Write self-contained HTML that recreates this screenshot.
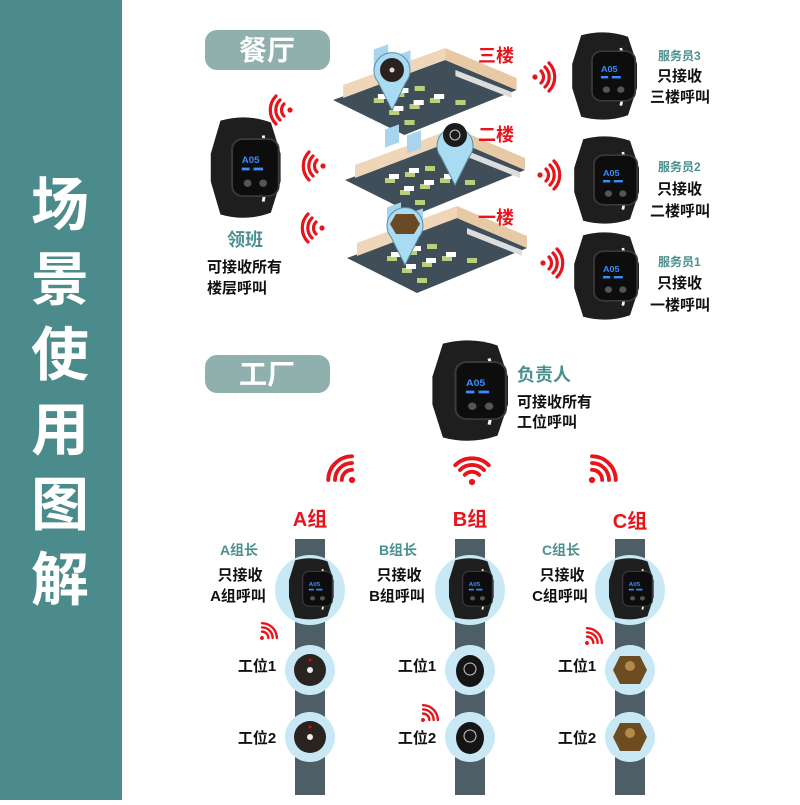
<!DOCTYPE html>
<html><head><meta charset="utf-8"><style>
body{margin:0;width:800px;height:800px;background:#fff;overflow:hidden;font-family:"Liberation Sans","Noto Sans CJK SC",sans-serif}
</style></head><body>
<svg width="800" height="800" viewBox="0 0 800 800" xmlns="http://www.w3.org/2000/svg" font-family="Liberation Sans, Noto Sans CJK SC, sans-serif">
<defs>
<g id="w">
 <path d="M18 4 Q45 -4 70 6 L80 40 L80 70 L70 104 Q45 114 18 106 L8 70 L8 40 Z" fill="#1e1e1e"/>
 <path d="M62 20 Q70 55 62 92" stroke="#f4f4f4" stroke-width="3" fill="none"/>
 <rect x="30" y="24" width="48" height="62" rx="11" fill="#0d0d0d" stroke="#3a3a3a" stroke-width="2"/>
 <text x="40" y="50" font-size="10" font-weight="bold" fill="#3b8cff">A05</text>
 <rect x="40" y="55" width="8" height="3" fill="#3b8cff"/><rect x="52" y="55" width="10" height="3" fill="#3b8cff"/>
 <circle cx="46" cy="72" r="4" fill="#555"/><circle cx="62" cy="72" r="4" fill="#555"/>
</g>
<g id="wifi" fill="none" stroke="#e8141b" stroke-width="3.2" stroke-linecap="round">
 <circle cx="0" cy="0" r="2.6" fill="#e8141b" stroke="none"/>
 <path d="M6 -6 A8.5 8.5 0 0 1 6 6"/>
 <path d="M10 -10 A14 14 0 0 1 10 10"/>
 <path d="M14 -14 A20 20 0 0 1 14 14"/>
</g>
<g id="floor">
 <polygon points="0,40 110,0 180,30 70,75" fill="#3f4e58"/>
 <polygon points="10,25 110,-12 110,0 10,38" fill="#f0d6b8"/>
 <polygon points="110,-12 180,18 180,30 110,0" fill="#e8c9a6"/>
 <rect x="40" y="4" width="14" height="18" fill="#a9d4ee" transform="skewY(-20)"/>
 <rect x="62" y="18" width="14" height="18" fill="#a9d4ee" transform="skewY(-20)"/>
 <g fill="#b9cf7a"><rect x="40" y="38" width="10" height="5"/><rect x="60" y="32" width="10" height="5"/><rect x="80" y="26" width="10" height="5"/><rect x="55" y="50" width="10" height="5"/><rect x="75" y="44" width="10" height="5"/><rect x="95" y="38" width="10" height="5"/><rect x="70" y="60" width="10" height="5"/><rect x="120" y="40" width="10" height="5"/></g>
 <g fill="#fff"><rect x="44" y="34" width="10" height="5"/><rect x="64" y="28" width="10" height="5"/><rect x="59" y="46" width="10" height="5"/><rect x="79" y="40" width="10" height="5"/><rect x="99" y="34" width="10" height="5"/></g>
 <polygon points="120,10 175,32 175,38 120,16" fill="#ddd"/>
</g>
</defs>

<rect x="0" y="0" width="122" height="800" fill="#4b8b8c"/>
<g fill="#fff" font-size="58" font-weight="bold" text-anchor="middle">
<text x="60" y="225">场</text><text x="60" y="300">景</text><text x="60" y="375">使</text>
<text x="60" y="450">用</text><text x="60" y="525">图</text><text x="60" y="600">解</text>
</g>

<rect x="205" y="30" width="125" height="40" rx="12" fill="#90b0ae"/>
<text x="267" y="60" font-size="28" font-weight="bold" fill="#fff" text-anchor="middle">餐厅</text>
<rect x="205" y="355" width="125" height="38" rx="12" fill="#90b0ae"/>
<text x="267" y="384" font-size="28" font-weight="bold" fill="#fff" text-anchor="middle">工厂</text>

<use href="#floor" transform="translate(333,60) scale(1.02,1.0)"/>
<use href="#floor" transform="translate(345,140) scale(1.0,1.0)"/>
<use href="#floor" transform="translate(347,218) scale(1.0,1.0)"/>
<g fill="#a9dcf2" stroke="#5a8fa8" stroke-width="1">
<path d="M392 110 L378 82 A18 18 0 1 1 406 82 Z"/>
<path d="M455 185 L441 157 A18 18 0 1 1 469 157 Z"/>
<path d="M405 265 L391 237 A18 18 0 1 1 419 237 Z"/>
</g>
<circle cx="392" cy="70" r="12" fill="#2b2220"/><circle cx="392" cy="70" r="2.5" fill="#ddd"/>
<circle cx="455" cy="135" r="12" fill="#1b1b1b"/><circle cx="455" cy="135" r="5" fill="none" stroke="#ccc"/>
<polygon points="396,214 414,214 420,224 414,234 396,234 390,224" fill="#6a4a25"/>

<g fill="#e8141b" font-size="18" font-weight="bold">
<text x="478" y="62">三楼</text><text x="478" y="141">二楼</text><text x="478" y="224">一楼</text>
</g>

<use href="#wifi" transform="translate(290,110) rotate(180)"/>
<use href="#wifi" transform="translate(323,166) rotate(180)"/>
<use href="#wifi" transform="translate(322,228) rotate(180)"/>
<use href="#wifi" transform="translate(535,77)"/>
<use href="#wifi" transform="translate(540,175)"/>
<use href="#wifi" transform="translate(543,263)"/>

<use href="#w" transform="translate(203,117) scale(0.97,0.92)"/>
<use href="#w" transform="translate(565,32) scale(0.9,0.8)"/>
<use href="#w" transform="translate(567,136) scale(0.9,0.8)"/>
<use href="#w" transform="translate(567,232) scale(0.9,0.8)"/>
<use href="#w" transform="translate(424,340) scale(1.05,0.92)"/>

<text x="245" y="246" font-size="18" font-weight="bold" fill="#4b9090" text-anchor="middle">领班</text>
<g font-size="15" fill="#111" font-weight="bold">
<text x="207" y="272">可接收所有</text><text x="207" y="293">楼层呼叫</text>
<text x="517" y="407">可接收所有</text><text x="517" y="427">工位呼叫</text>
</g>
<text x="517" y="381" font-size="18" font-weight="bold" fill="#4b9090">负责人</text>

<g font-size="12" fill="#4b9090" font-weight="bold">
<text x="658" y="60">服务员3</text><text x="658" y="171">服务员2</text><text x="658" y="266">服务员1</text>
</g>
<g font-size="15" fill="#111" font-weight="bold">
<text x="657" y="81">只接收</text><text x="650" y="102">三楼呼叫</text>
<text x="657" y="194">只接收</text><text x="650" y="216">二楼呼叫</text>
<text x="657" y="288">只接收</text><text x="650" y="310">一楼呼叫</text>
</g>

<use href="#wifi" transform="translate(352,480) rotate(-135) scale(1.2)"/>
<use href="#wifi" transform="translate(472,482) rotate(-90) scale(1.2)"/>
<use href="#wifi" transform="translate(592,480) rotate(-45) scale(1.2)"/>

<g fill="#4e5e66"><rect x="295" y="539" width="30" height="256"/><rect x="455" y="539" width="30" height="256"/><rect x="615" y="539" width="30" height="256"/></g>
<g fill="#c9e8f6">
<circle cx="310" cy="590" r="35"/><circle cx="470" cy="590" r="35"/><circle cx="630" cy="590" r="35"/>
<circle cx="310" cy="670" r="25"/><circle cx="470" cy="670" r="25"/><circle cx="630" cy="670" r="25"/>
<circle cx="310" cy="737" r="25"/><circle cx="470" cy="737" r="25"/><circle cx="630" cy="737" r="25"/>
</g>
<use href="#w" transform="translate(284,558) scale(0.62,0.56)"/>
<use href="#w" transform="translate(444,558) scale(0.62,0.56)"/>
<use href="#w" transform="translate(604,558) scale(0.62,0.56)"/>
<g>
<circle cx="310" cy="670" r="16" fill="#2a2420"/><circle cx="310" cy="670" r="3" fill="#eee"/><circle cx="310" cy="660" r="1.5" fill="#e00"/>
<circle cx="310" cy="737" r="16" fill="#2a2420"/><circle cx="310" cy="737" r="3" fill="#eee"/><circle cx="310" cy="727" r="1.5" fill="#e00"/>
<ellipse cx="470" cy="671" rx="14" ry="16" fill="#151515"/><circle cx="470" cy="669" r="6" fill="none" stroke="#ccc"/>
<ellipse cx="470" cy="738" rx="14" ry="16" fill="#151515"/><circle cx="470" cy="736" r="6" fill="none" stroke="#ccc"/>
<polygon points="620,656 640,656 647,670 640,684 620,684 613,670" fill="#6e4c22"/><circle cx="630" cy="666" r="5" fill="#b48a4a"/>
<polygon points="620,723 640,723 647,737 640,751 620,751 613,737" fill="#6e4c22"/><circle cx="630" cy="733" r="5" fill="#b48a4a"/>
</g>
<use href="#wifi" transform="translate(262,638) rotate(-45) scale(0.75)"/>
<use href="#wifi" transform="translate(423,720) rotate(-45) scale(0.75)"/>
<use href="#wifi" transform="translate(587,643) rotate(-45) scale(0.75)"/>

<g fill="#e8141b" font-size="20" font-weight="bold" text-anchor="middle">
<text x="310" y="526">A组</text><text x="470" y="526">B组</text><text x="630" y="528">C组</text>
</g>
<g fill="#4b9090" font-size="14" font-weight="bold" text-anchor="middle">
<text x="239" y="555">A组长</text><text x="398" y="555">B组长</text><text x="561" y="555">C组长</text>
</g>
<g fill="#111" font-size="15" font-weight="bold" text-anchor="middle">
<text x="240" y="580">只接收</text><text x="238" y="601">A组呼叫</text>
<text x="399" y="580">只接收</text><text x="397" y="601">B组呼叫</text>
<text x="562" y="580">只接收</text><text x="560" y="601">C组呼叫</text>
<text x="257" y="671">工位1</text><text x="257" y="743">工位2</text>
<text x="417" y="671">工位1</text><text x="417" y="743">工位2</text>
<text x="577" y="671">工位1</text><text x="577" y="743">工位2</text>
</g>
</svg>
</body></html>
